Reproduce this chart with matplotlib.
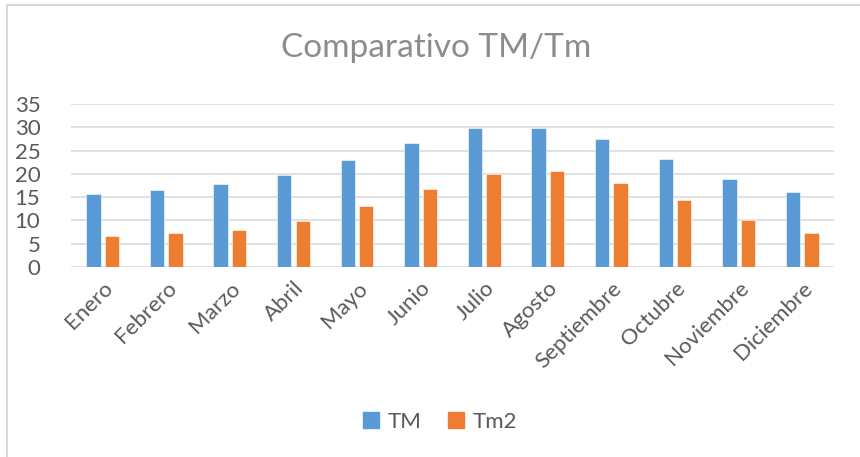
import numpy as np
import matplotlib
matplotlib.use("Agg")
import matplotlib.pyplot as plt
from matplotlib.lines import Line2D
from matplotlib.patches import Patch

# monthly averages
months = ["Enero", "Febrero", "Marzo", "Abril", "Mayo", "Junio",
          "Julio", "Agosto", "Septiembre", "Octubre", "Noviembre", "Diciembre"]
tm_max = [15.6, 16.6, 17.8, 19.7, 23.0, 26.6, 29.8, 29.8, 27.4, 23.1, 18.8, 16.1]
tm_min = [6.6, 7.3, 8.0, 9.9, 13.1, 16.7, 20.0, 20.6, 18.1, 14.3, 10.0, 7.3]
yticks = [0, 5, 10, 15, 20, 25, 30, 35]

blue = "#5B9BD5"
orange = "#ED7D31"
text_gray = "#595959"

plt.rcParams['font.family'] = ['Lato', 'DejaVu Sans']

fig = plt.figure(figsize=(8.6, 4.57), dpi=100)
ax = fig.add_axes([71 / 860, 1 - 267 / 457, (834 - 71) / 860, (267 - 104) / 457])

x = np.arange(len(months))
w = 0.226
ax.bar(x - 0.146, tm_max, width=w, color=blue, edgecolor="white", linewidth=0.4, zorder=3)
ax.bar(x + 0.144, tm_min, width=w, color=orange, edgecolor="white", linewidth=0.4, zorder=3)

ax.set_xlim(-0.5, len(months) - 0.5)
ax.set_ylim(0, 35)
ax.set_yticks(yticks)
ax.yaxis.grid(True, color="#d9d9d9", linewidth=1.1, zorder=0)
ax.set_axisbelow(True)
for s in ax.spines.values():
    s.set_visible(False)
ax.tick_params(axis="both", length=0, labelsize=16, labelcolor=text_gray)
ax.tick_params(axis="y", pad=22)
ax.set_xticks(x)
ax.set_xticklabels(months, rotation=45, ha="right", rotation_mode="anchor")
ax.tick_params(axis="x", pad=8)

fig.text(436 / 860, 1 - 48 / 457, "Comparativo TM/Tm", ha="center", va="center",
         fontsize=24, color="#8c8c8c")

handles = [Patch(color=blue, label="TM"), Patch(color=orange, label="Tm2")]
fig.legend(handles=handles, loc="center", bbox_to_anchor=(440 / 860, 1 - 422 / 457),
           ncol=2, frameon=False, fontsize=16, labelcolor=text_gray,
           handlelength=0.7, handleheight=0.7, handletextpad=0.4, columnspacing=1.2)

# chart frame (top and left edges)
fig.add_artist(Line2D([7 / 860, 7 / 860], [0, 1 - 5 / 457], transform=fig.transFigure,
                      color="#d9d9d9", linewidth=1.5))
fig.add_artist(Line2D([7 / 860, 1], [1 - 5 / 457, 1 - 5 / 457], transform=fig.transFigure,
                      color="#d9d9d9", linewidth=1.5))

fig.savefig("out.png", dpi=100)
